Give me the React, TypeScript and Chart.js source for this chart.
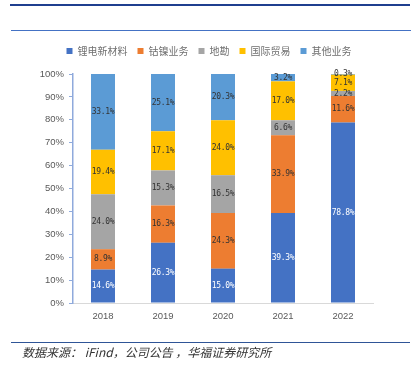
import React, { useEffect, useRef } from "react";
import { Chart, registerables } from "chart.js";

Chart.register(...registerables);

const categories = ["2018", "2019", "2020", "2021", "2022"];
const seriesNames = ["锂电新材料", "钴镍业务", "地勘", "国际贸易", "其他业务"];
const lithiumMaterials = [14.6, 26.3, 15.0, 39.3, 78.8];
const cobaltNickel = [8.9, 16.3, 24.3, 33.9, 11.6];
const exploration = [24.0, 15.3, 16.5, 6.6, 2.2];
const intlTrade = [19.4, 17.1, 24.0, 17.0, 7.1];
const otherBusiness = [33.1, 25.1, 20.3, 3.2, 0.3];
const seriesColors = ["#4472C4", "#ED7D31", "#A5A5A5", "#FFC000", "#5B9BD5"];
const labelColors = ["#FFFFFF", "#333333", "#333333", "#333333", "#333333"];
const sourceText = "数据来源： iFind，公司公告 ，华福证券研究所";

const NUM_FONT = "'Liberation Sans', 'Noto Sans CJK SC', sans-serif";
const CJK_FONT = "'Noto Sans CJK SC', 'Liberation Sans', sans-serif";
const LABEL_FONT = "'DejaVu Sans Mono', monospace";

const fmt = (v: number) => v.toFixed(1) + "%";

const barLabelPlugin = {
  id: "barLabels",
  afterDatasetsDraw(chart: any) {
    const ctx = chart.ctx;
    chart.data.datasets.forEach((ds: any, i: number) => {
      const meta = chart.getDatasetMeta(i);
      meta.data.forEach((bar: any, j: number) => {
        const v = ds.data[j];
        const { x, y, base } = bar.getProps(["x", "y", "base"], true);
        ctx.save();
        ctx.font = `8px ${LABEL_FONT}`;
        try {
          (ctx as any).letterSpacing = "-0.3px";
        } catch (e) {}
        ctx.fillStyle = labelColors[i];
        ctx.textAlign = "center";
        ctx.textBaseline = "middle";
        ctx.fillText(fmt(v), x, (y + base) / 2);
        ctx.restore();
      });
    });
  },
};

// centre the legend on the whole canvas and lift it above its layout slot
const legendPlacePlugin = {
  id: "legendPlace",
  afterLayout(chart: any) {
    const lg = chart.legend;
    if (lg) {
      lg.left = 0;
      lg.right = chart.width;
      lg.width = chart.width;
      lg.top -= 8;
      lg.bottom -= 8;
    }
  },
};

export default function App() {
  const ref = useRef<HTMLCanvasElement | null>(null);

  useEffect(() => {
    document.body.style.margin = "0";
    const seriesData = [lithiumMaterials, cobaltNickel, exploration, intlTrade, otherBusiness];
    const chart = new Chart(ref.current as HTMLCanvasElement, {
      type: "bar",
      data: {
        labels: categories,
        datasets: seriesNames.map((name, i) => ({
          label: name,
          data: seriesData[i],
          backgroundColor: seriesColors[i],
          borderWidth: 0,
          barPercentage: 0.4,
          categoryPercentage: 1,
        })),
      },
      options: {
        animation: false,
        responsive: false,
        events: [],
        layout: { padding: { left: 0, right: 45, top: 44, bottom: 37 } },
        plugins: {
          tooltip: { enabled: false },
          legend: {
            position: "top",
            labels: {
              boxWidth: 6,
              boxHeight: 6,
              padding: 10,
              color: "#6F6F6F",
              font: { size: 10, family: CJK_FONT },
            },
          },
        },
        scales: {
          x: {
            stacked: true,
            grid: { display: false, drawTicks: false },
            border: { color: "#D9D9D9", width: 1 },
            ticks: { color: "#595959", padding: 8, font: { size: 9.5, family: NUM_FONT } },
            afterFit: (s: any) => {
              s.height = 25;
            },
          },
          y: {
            stacked: true,
            min: 0,
            max: 100,
            grid: { display: true, drawOnChartArea: false, drawTicks: true, tickLength: 4, color: "#8FAADC" },
            border: { color: "#8FAADC", width: 1.5 },
            ticks: {
              stepSize: 10,
              padding: 5,
              color: "#595959",
              font: { size: 9.5, family: NUM_FONT },
              callback: (v: any) => v + "%",
            },
            afterFit: (s: any) => {
              s.width = 73;
            },
          },
        },
      },
      plugins: [barLabelPlugin, legendPlacePlugin],
    } as any);
    return () => chart.destroy();
  }, []);

  return (
    <div style={{ position: "relative", width: 418, height: 365, background: "#fff", overflow: "hidden" }}>
      <div style={{ position: "absolute", left: 10, top: 4, width: 400, height: 2, background: "#1F3F8F" }} />
      <div style={{ position: "absolute", left: 11, top: 30, width: 400, height: 1, background: "#4472C4" }} />
      <canvas ref={ref} width={418} height={365} style={{ position: "absolute", left: 0, top: 0, width: 418, height: 365 }} />
      <div style={{ position: "absolute", left: 11, top: 342, width: 399, height: 1, background: "#2F5597" }} />
      <div
        style={{
          position: "absolute",
          left: 22,
          top: 344,
          fontSize: 12,
          lineHeight: "16px",
          fontStyle: "italic",
          color: "#333",
          fontFamily: CJK_FONT,
          whiteSpace: "nowrap",
        }}
      >
        {sourceText}
      </div>
    </div>
  );
}
